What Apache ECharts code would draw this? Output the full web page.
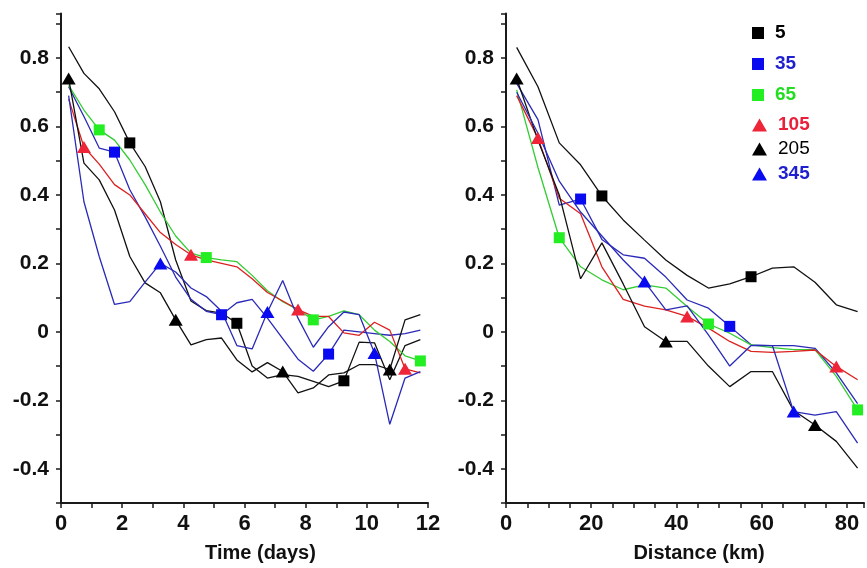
<!DOCTYPE html>
<html><head><meta charset="utf-8">
<script src="https://cdn.jsdelivr.net/npm/echarts@6/dist/echarts.min.js"></script>
<style>html,body{margin:0;padding:0;background:#fff}#c{width:867px;height:568px}</style>
</head><body><div id="c"></div>
<script>
// ---- data ----
const timeDays = [0.25, 0.75, 1.25, 1.75, 2.25, 2.75, 3.25, 3.75, 4.25, 4.75, 5.25, 5.75,
                  6.25, 6.75, 7.25, 7.75, 8.25, 8.75, 9.25, 9.75, 10.25, 10.75, 11.25, 11.75];
const distanceKm = [2.5, 7.5, 12.5, 17.5, 22.5, 27.5, 32.5, 37.5, 42.5, 47.5, 52.5, 57.5,
                    62.5, 67.5, 72.5, 77.5, 82.5];
const seriesNames = ['5', '35', '65', '105', '205', '345'];

const time5   = [0.833, 0.755, 0.71, 0.643, 0.552, 0.483, 0.38, 0.21, 0.09, 0.062, 0.055, 0.025, -0.1, -0.135, -0.125, -0.13, -0.145, -0.16, -0.143, -0.03, -0.032, -0.14, -0.04, -0.023];
const time35  = [0.716, 0.629, 0.537, 0.525, 0.415, 0.336, 0.25, 0.16, 0.095, 0.06, 0.05, 0.085, 0.095, 0.04, -0.02, -0.08, -0.115, -0.065, 0.005, 0.0, -0.005, -0.01, -0.005, 0.005];
const time65  = [0.72, 0.648, 0.59, 0.56, 0.502, 0.43, 0.35, 0.28, 0.23, 0.217, 0.21, 0.205, 0.165, 0.12, 0.088, 0.065, 0.035, 0.045, 0.061, 0.05, 0.005, -0.028, -0.07, -0.085];
const time105 = [0.68, 0.54, 0.49, 0.43, 0.40, 0.345, 0.29, 0.255, 0.225, 0.21, 0.2, 0.19, 0.155, 0.115, 0.09, 0.065, 0.045, 0.045, -0.003, -0.01, 0.028, 0.005, -0.108, -0.12];
const time205 = [0.74, 0.493, 0.444, 0.356, 0.22, 0.143, 0.114, 0.035, -0.038, -0.023, -0.018, -0.082, -0.117, -0.09, -0.116, -0.178, -0.164, -0.126, -0.12, -0.096, -0.096, -0.11, 0.035, 0.05];
const time345 = [0.69, 0.38, 0.22, 0.08, 0.088, 0.145, 0.2, 0.175, 0.128, 0.103, 0.06, -0.04, -0.05, 0.058, 0.15, 0.04, -0.045, 0.015, 0.058, 0.05, -0.062, -0.27, -0.135, -0.116];

const dist5   = [0.831, 0.716, 0.552, 0.488, 0.397, 0.327, 0.268, 0.21, 0.165, 0.128, 0.14, 0.161, 0.186, 0.19, 0.145, 0.079, 0.059];
const dist35  = [0.726, 0.62, 0.37, 0.388, 0.27, 0.225, 0.215, 0.16, 0.093, 0.069, 0.016, -0.038, -0.04, -0.04, -0.048, -0.12, -0.21];
const dist65  = [0.707, 0.48, 0.275, 0.19, 0.152, 0.123, 0.137, 0.128, 0.074, 0.023, -0.004, -0.038, -0.046, -0.052, -0.052, -0.13, -0.228];
const dist105 = [0.69, 0.566, 0.39, 0.345, 0.19, 0.095, 0.075, 0.064, 0.045, 0.011, -0.028, -0.057, -0.06, -0.057, -0.053, -0.101, -0.14];
const dist205 = [0.74, 0.56, 0.40, 0.155, 0.26, 0.14, 0.015, -0.028, -0.028, -0.1, -0.16, -0.116, -0.116, -0.23, -0.272, -0.32, -0.398];
const dist345 = [0.70, 0.58, 0.44, 0.35, 0.28, 0.21, 0.147, 0.064, 0.076, -0.009, -0.1, -0.04, -0.04, -0.233, -0.243, -0.233, -0.325];

const yTickLabels = [-0.4, -0.2, 0, 0.2, 0.4, 0.6, 0.8];
const timeTickLabels = [0, 2, 4, 6, 8, 10, 12];
const distTickLabels = [0, 20, 40, 60, 80];

// ---- styles ----
const FONT = "'Liberation Sans', Arial, Helvetica, sans-serif";
const styles = {
  '5':   {shape: 'rect',     line: '#111111', mark: '#000000', text: '#000000', size: 11, off: 4, bold: 'bold'},
  '35':  {shape: 'rect',     line: '#2a2ab8', mark: '#0a0af0', text: '#1f1fd0', size: 11, off: 3, bold: 'bold'},
  '65':  {shape: 'rect',     line: '#33cc33', mark: '#22ee22', text: '#22dd22', size: 11, off: 2, bold: 'bold'},
  '105': {shape: 'triangle', line: '#dd2020', mark: '#ee2438', text: '#e8203a', size: [14, 12], off: 1, bold: 'bold'},
  '205': {shape: 'triangle', line: '#111111', mark: '#000000', text: '#000000', size: [14, 12], off: 0, bold: 'normal'},
  '345': {shape: 'triangle', line: '#2a2ab8', mark: '#0a0af0', text: '#1f1fd0', size: [14, 12], off: 6, bold: 'bold'}
};
const legendCenters = [33, 64, 95, 125, 149, 174];

const timeSeries = {'5': time5, '35': time35, '65': time65, '105': time105, '205': time205, '345': time345};
const distSeries = {'5': dist5, '35': dist35, '65': dist65, '105': dist105, '205': dist205, '345': dist345};

function makeSeries(name, xs, ys, axisIdx) {
  const st = styles[name];
  return {
    name: name, type: 'line', xAxisIndex: axisIdx, yAxisIndex: axisIdx,
    data: xs.map((x, i) => [x, ys[i]]),
    symbol: st.shape, showSymbol: true, showAllSymbol: true,
    symbolSize: function (v, p) {
      const i = p.dataIndex;
      return (i >= st.off && (i - st.off) % 7 === 0) ? st.size : 0;
    },
    lineStyle: {color: st.line, width: 1.3},
    itemStyle: {color: st.mark},
    emphasis: {disabled: true},
    silent: true, animation: false
  };
}

const series = [];
seriesNames.forEach(n => series.push(makeSeries(n, timeDays, timeSeries[n], 0)));
seriesNames.forEach(n => series.push(makeSeries(n, distanceKm, distSeries[n], 1)));

function yLabel(v) {
  const r = Math.round(v * 10) / 10;
  for (const t of yTickLabels) if (Math.abs(t - r) < 1e-6 && Math.abs(v - r) < 1e-6) return t === 0 ? '0' : t.toFixed(1);
  return '';
}
function listLabel(list) {
  return function (v) {
    for (const t of list) if (Math.abs(t - v) < 1e-6) return String(t);
    return '';
  };
}

const axisLine = {show: true, onZero: false, lineStyle: {color: '#1a1a1a', width: 2}};
const axisTick = {show: true, inside: false, length: 5, lineStyle: {color: '#1a1a1a', width: 1.5}};

function yAxis(gi) {
  return {
    type: 'value', gridIndex: gi, min: -0.5, max: 0.93, interval: 0.1,
    axisLine: axisLine, axisTick: axisTick, splitLine: {show: false},
    axisLabel: {formatter: yLabel, margin: 12, fontSize: 21, fontWeight: 'bold', color: '#111', fontFamily: FONT, showMaxLabel: true, showMinLabel: true}
  };
}

const option = {
  backgroundColor: '#ffffff',
  animation: false,
  grid: [
    {left: 61, top: 13.5, width: 367, height: 490.5, containLabel: false},
    {left: 506, top: 13.5, width: 362, height: 490.5, containLabel: false}
  ],
  xAxis: [
    {
      type: 'value', gridIndex: 0, min: 0, max: 12, interval: 1,
      name: 'Time (days)', nameLocation: 'middle', nameGap: 40,
      nameTextStyle: {fontSize: 20, fontWeight: 'bold', color: '#111', fontFamily: FONT, padding: [0, 0, 0, 32]},
      axisLine: axisLine, axisTick: axisTick, splitLine: {show: false},
      axisLabel: {formatter: listLabel(timeTickLabels), margin: 10, fontSize: 22, fontWeight: 'bold', color: '#111', fontFamily: FONT, showMaxLabel: true}
    },
    {
      type: 'value', gridIndex: 1, min: 0, max: 84, interval: 5,
      name: 'Distance (km)', nameLocation: 'middle', nameGap: 40,
      nameTextStyle: {fontSize: 20, fontWeight: 'bold', color: '#111', fontFamily: FONT, padding: [0, 0, 0, 28]},
      axisLine: axisLine, axisTick: axisTick, splitLine: {show: false},
      axisLabel: {formatter: listLabel(distTickLabels), margin: 10, fontSize: 22, fontWeight: 'bold', color: '#111', fontFamily: FONT}
    }
  ],
  yAxis: [yAxis(0), yAxis(1)],
  legend: seriesNames.map((n, k) => ({
    data: [{name: n, icon: styles[n].shape}],
    left: 752, top: legendCenters[k] - 11, padding: 0,
    itemWidth: styles[n].shape === 'rect' ? 12 : 15,
    itemHeight: styles[n].shape === 'rect' ? 12 : 13,
    selectedMode: false,
    textStyle: {color: styles[n].text, fontSize: 19, fontWeight: styles[n].bold, fontFamily: FONT, lineHeight: 22, padding: [0, 0, 0, 6]}
  })),
  series: series
};

const chart = echarts.init(document.getElementById('c'), null, {renderer: 'canvas'});
chart.setOption(option);
</script>
</body></html>
